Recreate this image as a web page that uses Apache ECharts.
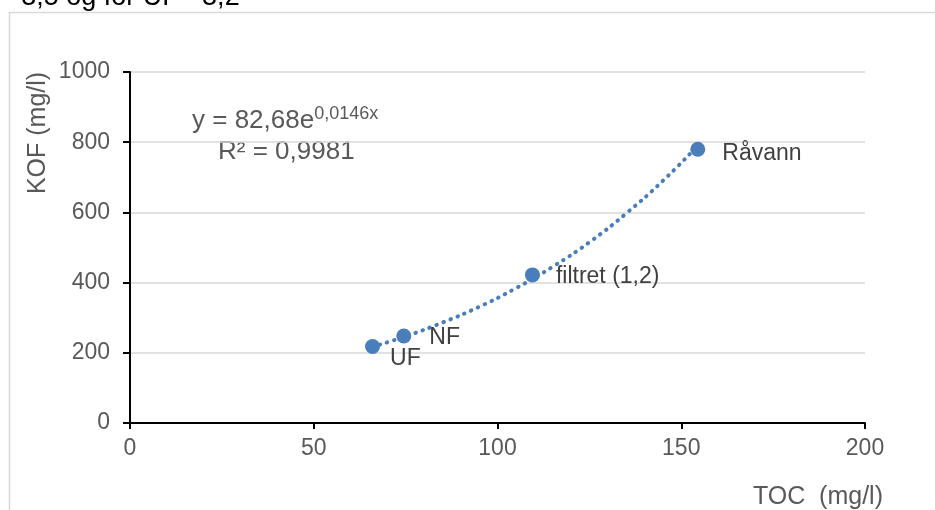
<!DOCTYPE html>
<html>
<head>
<meta charset="utf-8">
<script src="https://cdn.jsdelivr.net/npm/echarts@6/dist/echarts.min.js"></script>
<style>
  html, body { margin: 0; padding: 0; background: #fff; }
  #chart { width: 935px; height: 510px; }
</style>
</head>
<body>
<div id="chart"></div>
<script>
// measured points
const pointNames = ['UF', 'NF', 'filtret (1,2)', 'Råvann']
const tocValues = [66, 74.5, 109.5, 154.5]
const kofValues = [218, 248, 422, 780]

// exponential trendline
const trendToc = [66, 75, 85, 95, 105, 115, 125, 135, 145, 154.5]
const trendKof = [217, 247, 286, 331, 384, 445, 515, 597, 690, 790]

const xTicks = [0, 50, 100, 150, 200]
const yTicks = [0, 200, 400, 600, 800, 1000]

// label placement per point (distance right of marker, vertical shift)
const labelPos = [
  { distance: 10, offset: [0, 12] },
  { distance: 18, offset: [0, 2] },
  { distance: 16, offset: [0, 2] },
  { distance: 17, offset: [0, 4] }
]

const blue = '#4a7ebb'
const font = 'Liberation Sans, Arial, sans-serif'
const chart = echarts.init(document.getElementById('chart'))

const points = tocValues.map((x, i) => ({
  value: [x, kofValues[i]],
  name: pointNames[i],
  label: {
    show: true,
    position: 'right',
    distance: labelPos[i].distance,
    offset: labelPos[i].offset,
    formatter: '{b}',
    color: '#404040',
    fontSize: 23,
    fontFamily: font
  }
}))

chart.setOption({
  animation: false,
  textStyle: { fontFamily: font },
  grid: { left: 130, right: 70, top: 72, bottom: 87 },
  xAxis: {
    type: 'value',
    min: xTicks[0],
    max: xTicks[xTicks.length - 1],
    interval: 50,
    axisLine: { show: true, onZero: false, lineStyle: { color: '#000', width: 2 } },
    axisTick: { show: true, length: 6, lineStyle: { color: '#000', width: 2 } },
    axisLabel: { color: '#595959', fontSize: 23, margin: 14, formatter: v => String(v) },
    splitLine: { show: false }
  },
  yAxis: {
    type: 'value',
    min: yTicks[0],
    max: yTicks[yTicks.length - 1],
    interval: 200,
    axisLine: { show: true, onZero: false, lineStyle: { color: '#000', width: 2 } },
    axisTick: { show: true, length: 7, lineStyle: { color: '#000', width: 2 } },
    axisLabel: { color: '#595959', fontSize: 23, margin: 20, formatter: v => String(v) },
    splitLine: { show: true, lineStyle: { color: '#d9d9d9', width: 1.5 } }
  },
  graphic: [
    {
      type: 'rect',
      shape: { x: 9.5, y: 12.5, width: 1000, height: 600 },
      style: { fill: 'none', stroke: '#d9d9d9', lineWidth: 1.5 },
      silent: true
    },
    {
      type: 'text', x: -2, y: -2,
      style: {
        text: '= 3,5 og for UF =3,2', fill: '#000', fontSize: 27,
        fontFamily: font, verticalAlign: 'middle'
      }
    },
    {
      type: 'text', x: 38, y: 133, rotation: Math.PI / 2,
      style: {
        text: 'KOF (mg/l)', fill: '#595959', fontSize: 25,
        fontFamily: font, align: 'center', verticalAlign: 'middle'
      }
    },
    {
      type: 'text', x: 883, y: 497,
      style: {
        text: 'TOC  (mg/l)', fill: '#595959', fontSize: 25,
        fontFamily: font, align: 'right', verticalAlign: 'middle'
      }
    },
    {
      type: 'text', x: 192, y: 121,
      style: {
        text: '{m|y = 82,68e}{s|0,0146x}', verticalAlign: 'middle',
        rich: {
          m: { fontSize: 26, fill: '#595959', fontFamily: font },
          s: { fontSize: 18, fill: '#595959', fontFamily: font, padding: [0, 0, 14, 0] }
        }
      }
    },
    {
      type: 'text', x: 218, y: 152,
      style: {
        text: 'R² = 0,9981', fill: '#595959', fontSize: 26,
        fontFamily: font, verticalAlign: 'middle'
      }
    }
  ],
  series: [
    {
      type: 'line',
      data: trendToc.map((x, i) => [x, trendKof[i]]),
      smooth: true,
      symbol: 'none',
      lineStyle: { color: blue, width: 4, type: [0.5, 7], cap: 'round' },
      z: 2
    },
    {
      type: 'scatter',
      data: points,
      symbol: 'circle',
      symbolSize: 15,
      itemStyle: { color: blue, opacity: 1 },
      z: 3
    }
  ]
})
</script>
</body>
</html>
